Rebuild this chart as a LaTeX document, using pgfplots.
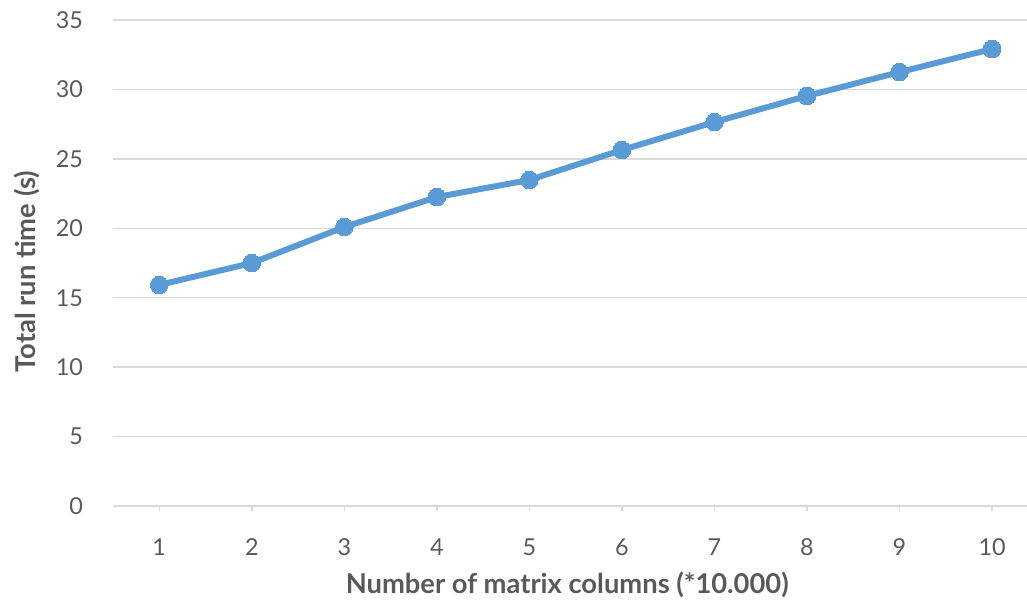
\documentclass[border=0pt]{standalone}
\usepackage{fontspec}
\setmainfont{Lato}
\usepackage{pgfplots}
\pgfplotsset{compat=1.18}
\definecolor{lineblue}{HTML}{5B9BD5}
\definecolor{gridgray}{HTML}{D9D9D9}
\definecolor{textgray}{HTML}{595959}
\begin{document}
\begin{tikzpicture}
\begin{axis}[
  scale only axis,
  width=685.5pt, height=364.5pt,
  xmin=0.5, xmax=10.378,
  ymin=0, ymax=35,
  xtick={1,...,10},
  ytick={0,5,...,35},
  axis x line*=bottom,
  axis y line*=left,
  y axis line style={draw=none},
  ymajorgrids,
  grid style={gridgray, line width=1.1pt},
  x axis line style={gridgray, line width=1.1pt, -},
  tick align=outside,
  xtick pos=bottom,
  major tick length=4pt,
  xtick style={gridgray, line width=1.1pt},
  ytick style={draw=none},
  /pgf/number format/assume math mode=true,
  tick label style={font=\fontsize{17.5}{21}\selectfont, text=textgray},
  yticklabel style={anchor=east, xshift=-15pt},
  xticklabel style={anchor=north, yshift=-17pt},
  xlabel={Number of matrix columns (*10.000)},
  ylabel={Total run time (s)},
  label style={font=\fontsize{20.5}{24}\selectfont\bfseries, text=textgray},
  xlabel style={at={(axis description cs:0.497,-0.1626)}, anchor=center},
  ylabel style={at={(axis description cs:-0.094,0.482)}, anchor=center, rotate=0},
  clip=false,
]
\addplot[lineblue, line width=4.5pt, mark=*, mark size=6.6pt, mark options={fill=lineblue, draw=lineblue, line width=0pt}]
coordinates {
(1,15.92) (2,17.50) (3,20.09) (4,22.25) (5,23.48) (6,25.64) (7,27.65) (8,29.53) (9,31.25) (10,32.91)
};
\coordinate (bl) at (rel axis cs:-0.1236,-0.1955);
\coordinate (tr) at (rel axis cs:1,1.0412);
\end{axis}
\pgfresetboundingbox
\path (bl) rectangle (tr);
\end{tikzpicture}
\end{document}
